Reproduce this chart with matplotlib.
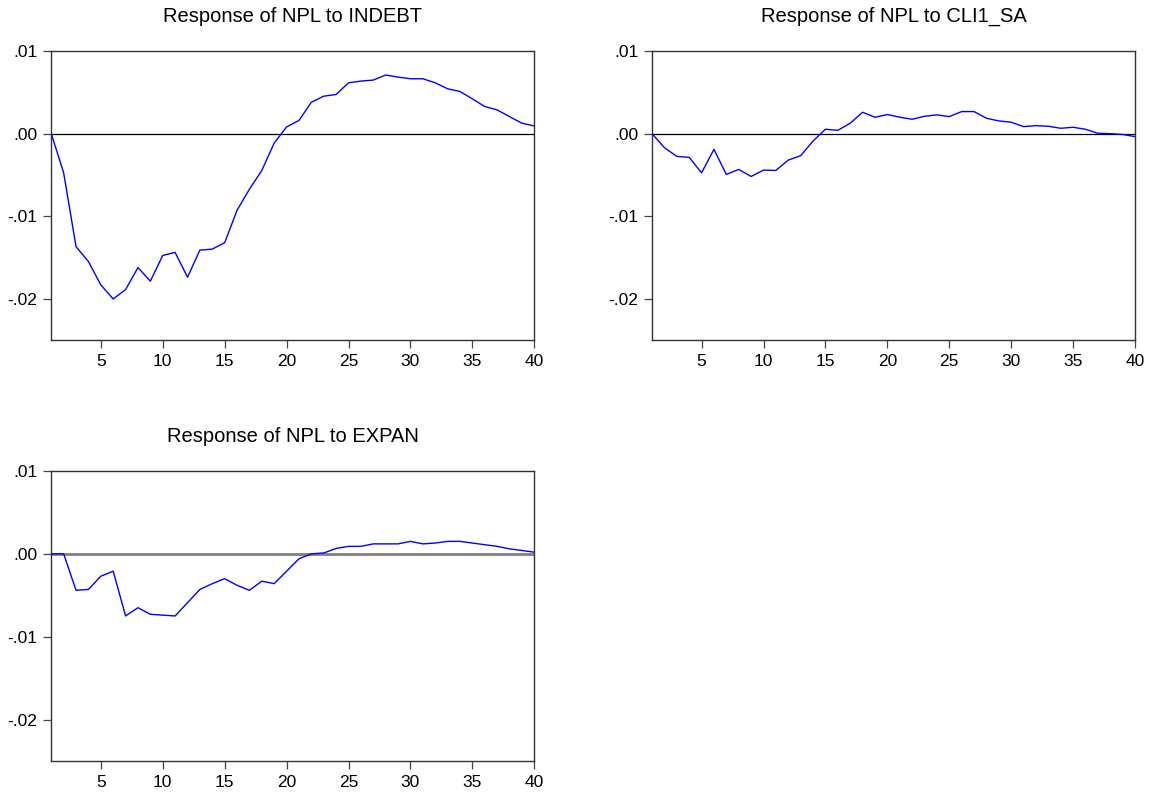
import numpy as np
import matplotlib
matplotlib.use("Agg")
import matplotlib.pyplot as plt
from matplotlib.ticker import FuncFormatter

plt.rcParams['font.family'] = ['Liberation Sans', 'DejaVu Sans']

periods = np.arange(1, 41)

# response of NPL to INDEBT
indebt = [0.0, -0.00474, -0.01368, -0.01547, -0.0183, -0.0200, -0.01887, -0.0162,
          -0.01785, -0.01474, -0.01437, -0.01737, -0.01409, -0.01397, -0.0132,
          -0.00927, -0.00672, -0.00445, -0.00113, 0.00081, 0.00160, 0.0038,
          0.00453, 0.00474, 0.00615, 0.00636, 0.00648, 0.00709, 0.00684, 0.00664,
          0.00664, 0.00615, 0.00543, 0.0051, 0.00421, 0.00328, 0.00287, 0.00206,
          0.00126, 0.00093]

# response of NPL to CLI1_SA
cli1_sa = [0.0, -0.0017, -0.00275, -0.00287, -0.00474, -0.0019, -0.00494, -0.00433,
           -0.00518, -0.00441, -0.00445, -0.0032, -0.00267, -0.00089, 0.00053,
           0.0004, 0.00126, 0.00259, 0.00198, 0.00231, 0.00199, 0.00174, 0.0021,
           0.00227, 0.00206, 0.00267, 0.00267, 0.00186, 0.00154, 0.00138, 0.00085,
           0.00097, 0.00089, 0.00065, 0.00077, 0.00053, 0.00004, 0.0, -0.0001,
           -0.00036]

# response of NPL to EXPAN
expan = [0.0, 0.0, -0.0044, -0.0043, -0.0027, -0.0021, -0.0075, -0.0065, -0.0073,
         -0.0074, -0.0075, -0.0059, -0.0043, -0.0036, -0.003, -0.0038, -0.0044,
         -0.0033, -0.0036, -0.0021, -0.0006, 0.0, 0.0001, 0.00065, 0.0009, 0.0009,
         0.0012, 0.0012, 0.0012, 0.0015, 0.0012, 0.0013, 0.0015, 0.0015, 0.0013,
         0.0011, 0.0009, 0.0006, 0.0004, 0.0002]

titles = ['Response of NPL to INDEBT', 'Response of NPL to CLI1_SA',
          'Response of NPL to EXPAN']
y_ticks = [0.01, 0.0, -0.01, -0.02]
x_ticks = [5, 10, 15, 20, 25, 30, 35, 40]


def dot_fmt(v, pos):
    s = '%.2f' % v
    if s.startswith('-0'):
        return '-' + s[2:]
    if s.startswith('0'):
        return s[1:]
    return s


fig = plt.figure(figsize=(11.6, 7.93), dpi=100)

boxes = [[0.0442, 0.5709, 0.4164, 0.3648],
         [0.5621, 0.5709, 0.4164, 0.3648],
         [0.0442, 0.0404, 0.4164, 0.3657]]
series = [indebt, cli1_sa, expan]

for i in range(3):
    ax = fig.add_axes(boxes[i])
    ax.plot(periods, series[i], color='#0000ff', lw=1.0, zorder=3)
    if i == 2:
        ax.axhline(0, color='#808080', lw=2.0, zorder=2)
    else:
        ax.axhline(0, color='black', lw=0.9, zorder=2)
    ax.set_xlim(1, 40)
    ax.set_ylim(-0.025, 0.01)
    ax.set_xticks(x_ticks)
    ax.set_yticks(y_ticks)
    ax.yaxis.set_major_formatter(FuncFormatter(dot_fmt))
    ax.tick_params(direction='out', length=6, width=0.9, color='#444444',
                   labelsize=12.5, pad=4)
    for sp in ax.spines.values():
        sp.set_color('#333333')
        sp.set_linewidth(1.0)
    ax.set_title(titles[i], fontsize=14.5, pad=21)

fig.savefig('out.png', dpi=100)
